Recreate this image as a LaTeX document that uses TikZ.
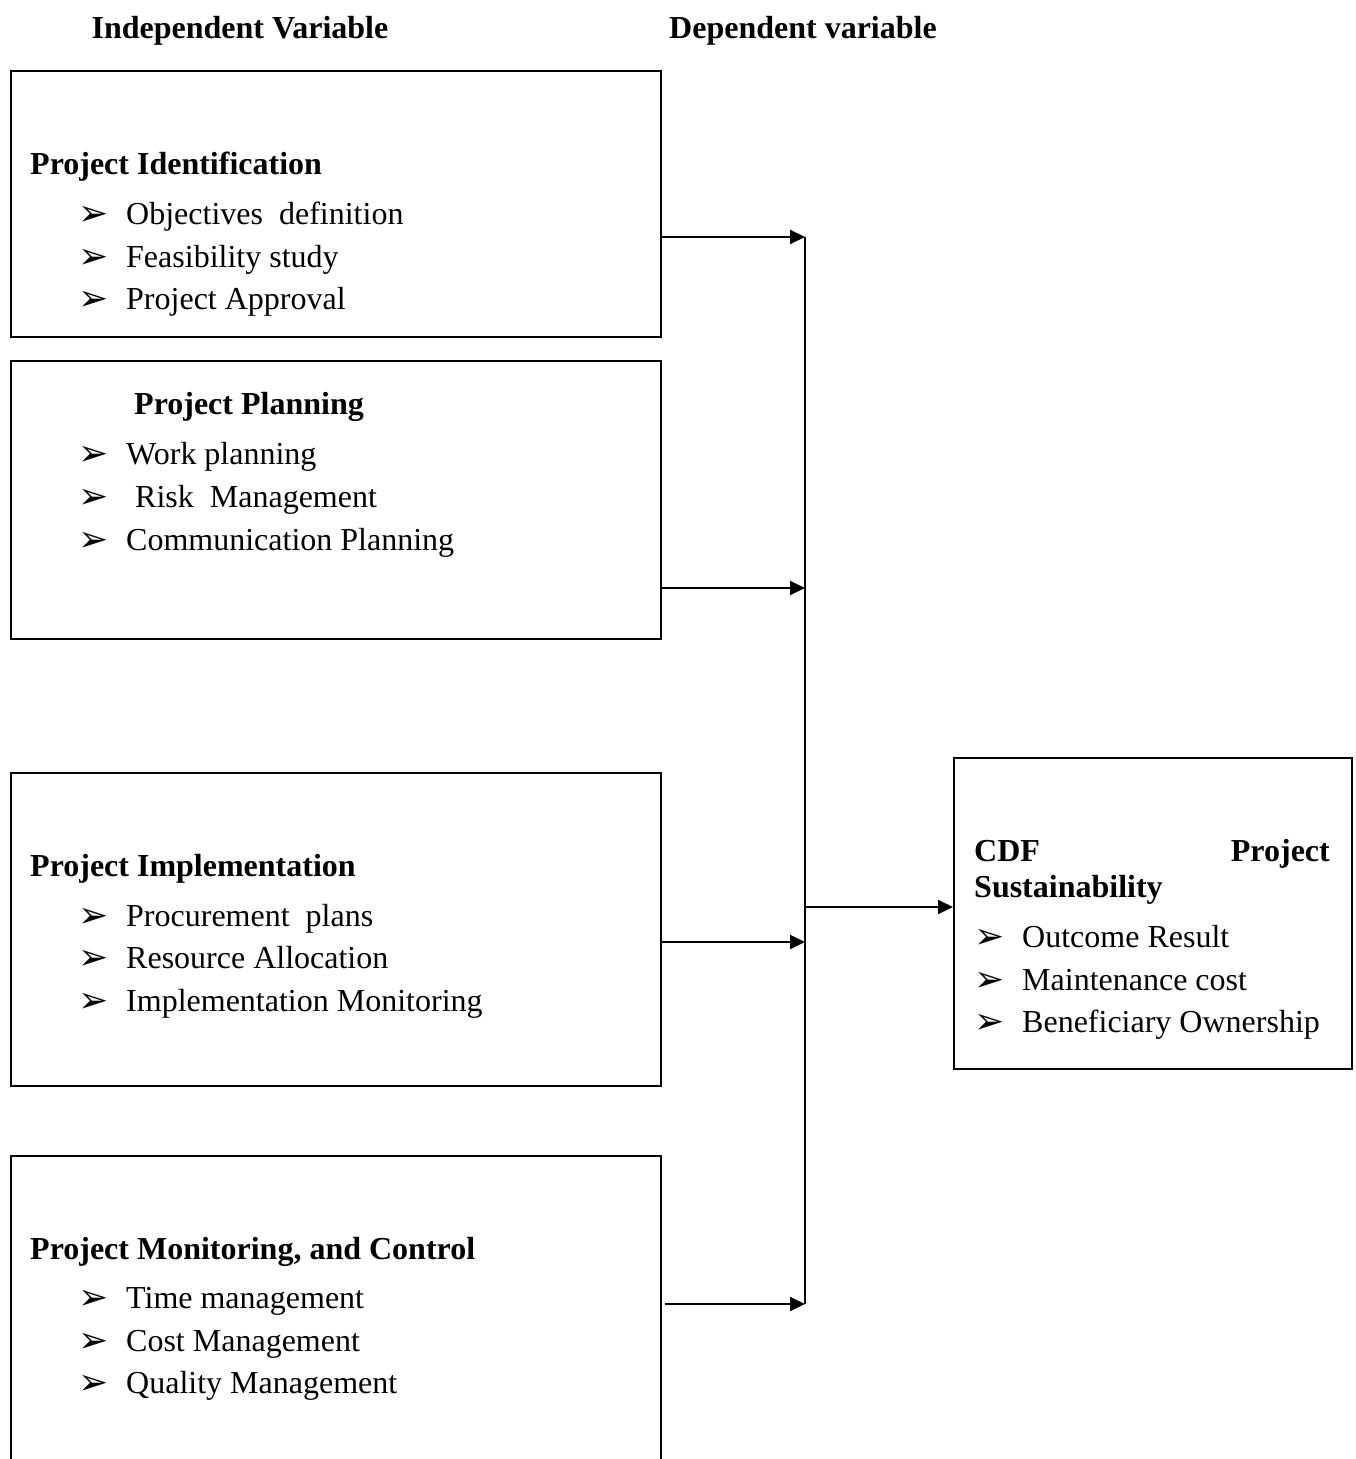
\documentclass[tikz,border=0pt]{standalone}
\usepackage{fontspec}
\setmainfont{Liberation Serif}
\newfontfamily\dingfont{DejaVu Sans}
\usetikzlibrary{arrows.meta}
\newcommand{\bul}{{\dingfont\char"27A2}}
\tikzset{
  box/.style={draw, line width=1.7pt, anchor=north west, inner sep=0pt},
  ttl/.style={anchor=mid west, inner sep=0pt, font=\fontsize{32}{36}\selectfont\bfseries, yshift=-9pt},
  itm/.style={anchor=mid west, inner sep=0pt, font=\fontsize{32}{36}\selectfont, yshift=-9pt},
  bl/.style={anchor=mid west, inner sep=0pt, font=\fontsize{36}{40}\selectfont, yshift=-10pt},
  conn/.style={line width=2pt},
  arr/.style={line width=2pt, -{Triangle[length=15pt,width=14pt]}}
}
\begin{document}
\begin{tikzpicture}[x=1pt,y=-1pt]
\clip (0,0) rectangle (1355,1459);
\fill[white] (0,0) rectangle (1355,1459);
% headers
\node[ttl, anchor=mid] (hind) at (240,27) {Independent Variable};
\node[ttl, anchor=mid] (hdep) at (803,27) {Dependent variable};
% boxes
\node[box, minimum width=650pt, minimum height=266pt] (b1) at (10,70) {};
\node[box, minimum width=650pt, minimum height=278pt] (b2) at (10,360) {};
\node[box, minimum width=650pt, minimum height=313pt] (b3) at (10,772) {};
\node[box, minimum width=650pt, minimum height=400pt] (b4) at (10,1155) {};
\node[box, minimum width=398pt, minimum height=311pt] (b5) at (953,757) {};
% box 1
\node[ttl] (t1) at (30,163) {Project Identification};
\node[bl] (b1a) at (78,213) {\bul}; \node[itm] (i1a) at (126,213) {Objectives\ \ definition};
\node[bl] (b1b) at (78,256) {\bul}; \node[itm] (i1b) at (126,256) {Feasibility study};
\node[bl] (b1c) at (78,298) {\bul}; \node[itm] (i1c) at (126,298) {Project Approval};
% box 2
\node[ttl] (t2) at (134,403) {Project Planning};
\node[bl] (b2a) at (78,453) {\bul}; \node[itm] (i2a) at (126,453) {Work planning};
\node[bl] (b2b) at (78,496) {\bul}; \node[itm] (i2b) at (135,496) {Risk\ \ Management};
\node[bl] (b2c) at (78,539) {\bul}; \node[itm] (i2c) at (126,539) {Communication Planning};
% box 3
\node[ttl] (t3) at (30,865) {Project Implementation};
\node[bl] (b3a) at (78,915) {\bul}; \node[itm] (i3a) at (126,915) {Procurement\ \ plans};
\node[bl] (b3b) at (78,957) {\bul}; \node[itm] (i3b) at (126,957) {Resource Allocation};
\node[bl] (b3c) at (78,1000) {\bul}; \node[itm] (i3c) at (126,1000) {Implementation Monitoring};
% box 4
\node[ttl] (t4) at (30,1248) {Project Monitoring, and Control};
\node[bl] (b4a) at (78,1297) {\bul}; \node[itm] (i4a) at (126,1297) {Time management};
\node[bl] (b4b) at (78,1340) {\bul}; \node[itm] (i4b) at (126,1340) {Cost Management};
\node[bl] (b4c) at (78,1382) {\bul}; \node[itm] (i4c) at (126,1382) {Quality Management};
% box 5
\node[ttl] (t5a) at (974,850) {CDF};
\node[ttl, anchor=mid east] (t5b) at (1330,850) {Project};
\node[ttl] (t5c) at (974,886) {Sustainability};
\node[bl] (b5a) at (974,936) {\bul}; \node[itm] (i5a) at (1022,936) {Outcome Result};
\node[bl] (b5b) at (974,979) {\bul}; \node[itm] (i5b) at (1022,979) {Maintenance cost};
\node[bl] (b5c) at (974,1021) {\bul}; \node[itm] (i5c) at (1022,1021) {Beneficiary Ownership};
% connectors
\coordinate (j1) at (805,237);
\coordinate (j2) at (805,588);
\coordinate (j3) at (805,942);
\coordinate (j4) at (805,1304);
\coordinate (jm) at (805,907);
\draw[arr] (b1.east |- j1) -- (j1);
\draw[arr] (b2.east |- j2) -- (j2);
\draw[arr] (b3.east |- j3) -- (j3);
\draw[arr] ([xshift=3pt]b4.east |- j4) -- (j4);
\draw[conn] (j1) -- (j4);
\draw[arr] (jm) -- (b5.west |- jm);
\end{tikzpicture}
\end{document}
